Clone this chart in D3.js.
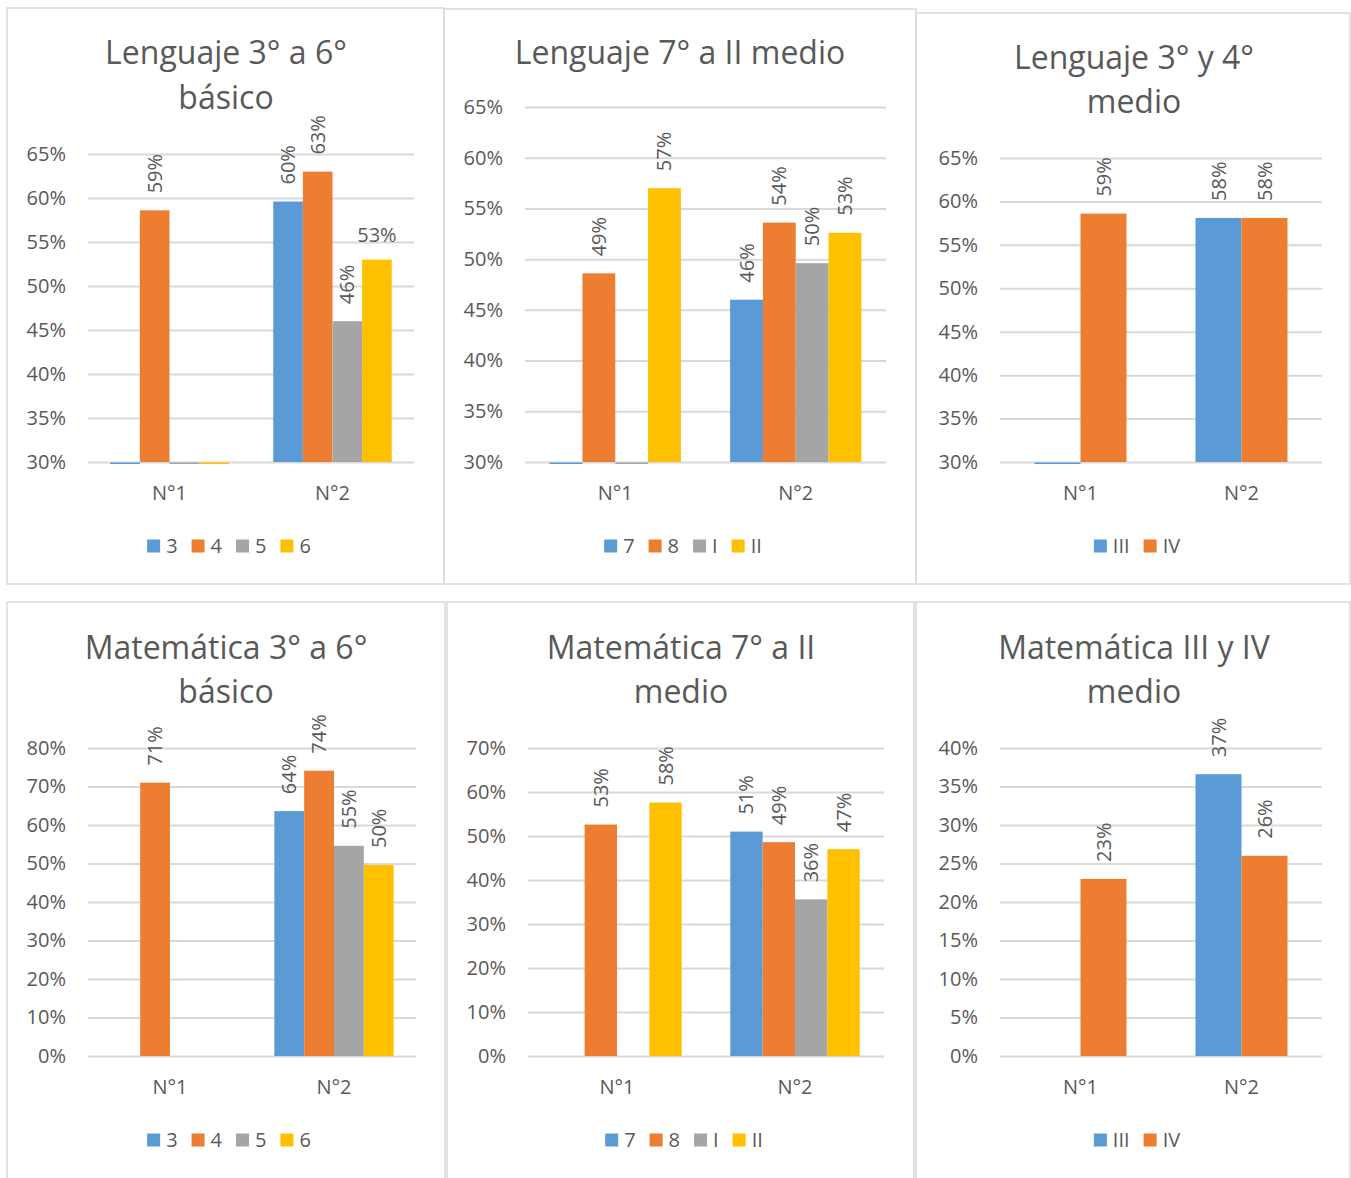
<!DOCTYPE html>
<html>
<head>
<meta charset="utf-8">
<script src="https://cdn.jsdelivr.net/npm/d3@7"></script>
<style>
  body { margin: 0; background: #fff; }
  text { font-family: "Open Sans", sans-serif; fill: #595959; }
</style>
</head>
<body>
<div id="chart"></div>
<script>
// values
const categories = ['N°1', 'N°2'];

const seriesBasico = ['3', '4', '5', '6'];
const seriesMedio = ['7', '8', 'I', 'II'];
const seriesSuperior = ['III', 'IV'];

const lengBasicoN1 = [0, 0.586, 0, 0];
const lengBasicoN2 = [0.596, 0.63, 0.46, 0.53];
const lengMedioN1 = [0, 0.486, 0, 0.57];
const lengMedioN2 = [0.46, 0.536, 0.496, 0.526];
const lengSupN1 = [0, 0.586];
const lengSupN2 = [0.581, 0.581];

const mateBasicoN1 = [0, 0.71, 0, 0];
const mateBasicoN2 = [0.636, 0.741, 0.546, 0.496];
const mateMedioN1 = [0, 0.526, 0, 0.576];
const mateMedioN2 = [0.51, 0.486, 0.356, 0.47];
const mateSupN1 = [0, 0.23];
const mateSupN2 = [0.366, 0.26];

const ticksLengBasico = [0.30, 0.35, 0.40, 0.45, 0.50, 0.55, 0.60, 0.65];
const ticksLengMedio = [0.30, 0.35, 0.40, 0.45, 0.50, 0.55, 0.60, 0.65];
const ticksLengSup = [0.30, 0.35, 0.40, 0.45, 0.50, 0.55, 0.60, 0.65];
const ticksMateBasico = [0, 0.1, 0.2, 0.3, 0.4, 0.5, 0.6, 0.7, 0.8];
const ticksMateMedio = [0, 0.1, 0.2, 0.3, 0.4, 0.5, 0.6, 0.7];
const ticksMateSup = [0, 0.05, 0.10, 0.15, 0.20, 0.25, 0.30, 0.35, 0.40];

const colors = ['#5b9bd5', '#ed7d31', '#a5a5a5', '#ffc000'];

let charts = [
  {title: ['Lenguaje 3° a 6°', 'básico'], series: seriesBasico, values: [lengBasicoN1, lengBasicoN2], ticks: ticksLengBasico,
   flat: ['1-3'],
   panel: {x: 7, y: 8, w: 437, h: 576}, plot: {l: 88, r: 414, t: 154, b: 462}, titleY: [53, 98], cx: 226, legendY: 546},
  {title: ['Lenguaje 7° a II medio'], series: seriesMedio, values: [lengMedioN1, lengMedioN2], ticks: ticksLengMedio,
   flat: [],
   panel: {x: 444, y: 9, w: 472, h: 575}, plot: {l: 525, r: 886, t: 107, b: 462}, titleY: [53], cx: 680, legendY: 546},
  {title: ['Lenguaje 3° y 4°', 'medio'], series: seriesSuperior, values: [lengSupN1, lengSupN2], ticks: ticksLengSup,
   flat: [],
   panel: {x: 916, y: 13, w: 434, h: 571}, plot: {l: 1000, r: 1322, t: 158, b: 462}, titleY: [58, 102], cx: 1134, legendY: 546},
  {title: ['Matemática 3° a 6°', 'básico'], series: seriesBasico, values: [mateBasicoN1, mateBasicoN2], ticks: ticksMateBasico,
   flat: [],
   panel: {x: 7, y: 602, w: 438, h: 600}, plot: {l: 88, r: 416, t: 748, b: 1056}, titleY: [648, 692], cx: 226, legendY: 1140},
  {title: ['Matemática 7° a II', 'medio'], series: seriesMedio, values: [mateMedioN1, mateMedioN2], ticks: ticksMateMedio,
   flat: [],
   panel: {x: 447, y: 602, w: 467, h: 600}, plot: {l: 528, r: 884, t: 748, b: 1056}, titleY: [648, 692], cx: 681, legendY: 1140},
  {title: ['Matemática III y IV', 'medio'], series: seriesSuperior, values: [mateSupN1, mateSupN2], ticks: ticksMateSup,
   flat: [],
   panel: {x: 916, y: 602, w: 434, h: 600}, plot: {l: 1000, r: 1322, t: 748, b: 1056}, titleY: [648, 692], cx: 1134, legendY: 1140}
];

const svg = d3.select('#chart').append('svg')
  .attr('width', 1351)
  .attr('height', 1178);

const fmt = d3.format('.0%');

charts.forEach(c => {
  const g = svg.append('g');
  const p = c.plot;

  g.append('rect')
    .attr('x', c.panel.x).attr('y', c.panel.y)
    .attr('width', c.panel.w).attr('height', c.panel.h)
    .attr('fill', '#fff').attr('stroke', '#d9d9d9').attr('stroke-width', 1.5);

  g.selectAll('.title').data(c.title).enter().append('text')
    .attr('x', c.cx)
    .attr('y', (d, i) => c.titleY[i] + 11)
    .attr('text-anchor', 'middle')
    .style('font-size', '32px')
    .text(d => d);

  const n = c.series.length;
  const pad = 1.5 / (n + 1.5);
  let x0 = d3.scaleBand().domain(categories).range([p.l, p.r])
    .paddingInner(pad).paddingOuter(pad / 2);
  let x1 = d3.scaleBand().domain(c.series).range([0, x0.bandwidth()]);
  const yMin = c.ticks[0], yMax = c.ticks[c.ticks.length - 1];
  let y = d3.scaleLinear().domain([yMin, yMax]).range([p.b, p.t]);

  // gridlines
  g.append('g')
    .attr('transform', 'translate(' + p.l + ',0)')
    .call(d3.axisLeft(y).tickValues(c.ticks).tickSize(-(p.r - p.l)).tickFormat(''))
    .call(a => a.select('.domain').remove())
    .call(a => a.selectAll('line').attr('stroke', '#d9d9d9').attr('stroke-width', 2));

  // tick labels
  g.append('g')
    .attr('transform', 'translate(' + p.l + ',0)')
    .call(d3.axisLeft(y).tickValues(c.ticks).tickSize(0).tickPadding(22).tickFormat(fmt))
    .call(a => a.select('.domain').remove())
    .call(a => a.selectAll('text').style('font-size', '20px').attr('fill', '#595959')
      .style('font-family', '"Open Sans", sans-serif'));

  // category labels
  g.append('g')
    .attr('transform', 'translate(0,' + p.b + ')')
    .call(d3.axisBottom(x0).tickSize(0).tickPadding(24))
    .call(a => a.select('.domain').remove())
    .call(a => a.selectAll('text').style('font-size', '20px').attr('fill', '#595959')
      .style('font-family', '"Open Sans", sans-serif'));

  const rows = [];
  categories.forEach((cat, ci) => {
    c.series.forEach((s, si) => {
      rows.push({cat: cat, ci: ci, s: s, si: si, v: c.values[ci][si]});
    });
  });

  // bars
  g.selectAll('.bar').data(rows.filter(d => !(d.v <= 0 && yMin === 0))).enter().append('rect')
    .attr('class', 'bar')
    .attr('x', d => x0(d.cat) + x1(d.s))
    .attr('width', x1.bandwidth())
    .attr('y', d => d.v < yMin ? y(yMin) + 0.5 : y(d.v))
    .attr('height', d => d.v < yMin ? 1.5 : y(yMin) - y(d.v))
    .attr('fill', d => colors[d.si]);

  // data labels
  const labelled = rows.filter(d => d.v > yMin);
  labelled.forEach(d => {
    const bx = x0(d.cat) + x1(d.s) + x1.bandwidth() / 2;
    const top = y(d.v);
    if (c.flat.indexOf(d.ci + '-' + d.si) >= 0) {
      g.append('text')
        .attr('x', bx).attr('y', top - 18)
        .attr('text-anchor', 'middle')
        .style('font-size', '20px')
        .text(fmt(d.v));
    } else {
      g.append('text')
        .attr('transform', 'translate(' + bx + ',' + (top - 17) + ') rotate(-90)')
        .attr('text-anchor', 'start')
        .attr('dy', '0.35em')
        .style('font-size', '20px')
        .text(fmt(d.v));
    }
  });

  // legend
  const leg = g.append('g');
  let lx = 0;
  c.series.forEach((s, si) => {
    const it = leg.append('g').attr('transform', 'translate(' + lx + ',0)');
    it.append('rect').attr('x', 0).attr('y', -6.5).attr('width', 13).attr('height', 13).attr('fill', colors[si]);
    const t = it.append('text').attr('x', 19).attr('dy', '0.35em').style('font-size', '20px').text(s);
    lx += 19 + t.node().getComputedTextLength() + 14;
  });
  lx -= 14;
  leg.attr('transform', 'translate(' + (c.cx + 3 - lx / 2) + ',' + c.legendY + ')');
});
</script>
</body>
</html>
